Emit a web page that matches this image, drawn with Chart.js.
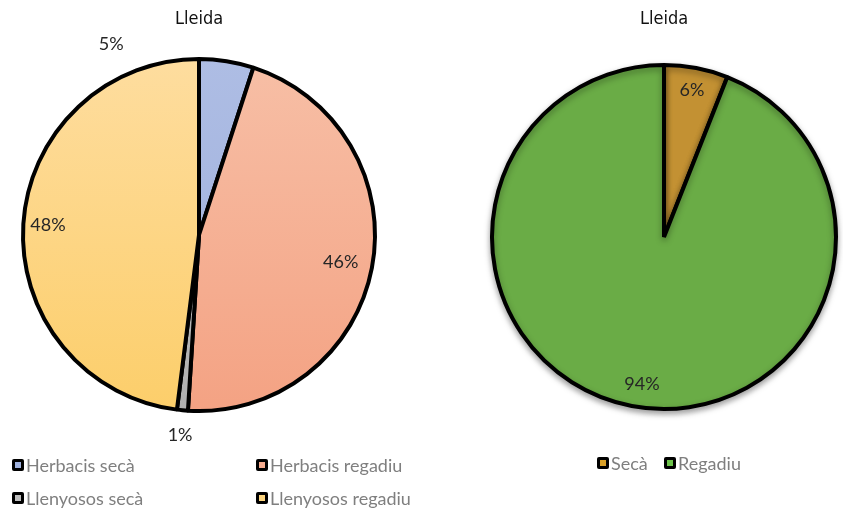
<!DOCTYPE html>
<html>
<head>
<meta charset="utf-8">
<script src="https://cdn.jsdelivr.net/npm/chart.js@4.4.1/dist/chart.umd.min.js"></script>
<style>
html,body{margin:0;padding:0;background:#fff;}
#wrap{position:relative;width:843px;height:513px;overflow:hidden;}
.c{position:absolute;top:0;}
</style>
</head>
<body>
<div id="wrap">
  <div class="c" style="left:0;width:430px;height:513px;"><canvas id="left"></canvas></div>
  <div class="c" style="left:430px;width:413px;height:513px;"><canvas id="right"></canvas></div>
</div>
<script>
// ---- data ----
const leftTitle = "Lleida";
const leftLabels = ["Herbacis secà", "Herbacis regadiu", "Llenyosos secà", "Llenyosos regadiu"];
const leftValues = [5, 46, 1, 48];
const rightTitle = "Lleida";
const rightLabels = ["Secà", "Regadiu"];
const rightValues = [6, 94];

// ---- styles ----
const leftColorsTop = ["#aebde4", "#f7bfa6", "#c8c8c8", "#fedd9f"];
const leftColorsBot = ["#9dafdc", "#f4a283", "#b0b0b0", "#fcce6a"];
const leftLegendColors = ["#9fb1de", "#f5ab8e", "#bfbfbf", "#fdd57f"];
const rightColors = ["#c39133", "#6aac46"];
const FONT = "Lato, 'Open Sans', sans-serif";

function gradFill(tops, bots) {
  return (ctx) => {
    const chart = ctx.chart;
    const a = chart.chartArea;
    if (!a) return tops[ctx.dataIndex];
    const g = chart.ctx.createLinearGradient(0, a.top, 0, a.bottom);
    g.addColorStop(0, tops[ctx.dataIndex]);
    g.addColorStop(1, bots[ctx.dataIndex]);
    return g;
  };
}

const decorPlugin = {
  id: 'decor',
  afterDraw(chart, args, opts) {
    const ctx = chart.ctx;
    const meta = chart.getDatasetMeta(0);
    const first = meta.data[0];
    const cx = first.x, cy = first.y, r = first.outerRadius;
    ctx.save();
    // title
    ctx.fillStyle = "#111111";
    ctx.textAlign = "center";
    ctx.textBaseline = "middle";
    ctx.font = "500 18px 'DejaVu Sans Condensed', sans-serif";
    ctx.fillText(opts.title, cx, 19);
    // value labels
    ctx.font = "18px " + FONT;
    ctx.fillStyle = "#262626";
    const vals = chart.data.datasets[0].data;
    const total = vals.reduce((s, v) => s + v, 0);
    meta.data.forEach((arc, i) => {
      const mid = (arc.startAngle + arc.endAngle) / 2;
      const f = opts.labelRadius[i];
      let x = cx + Math.cos(mid) * r * f;
      let y = cy + Math.sin(mid) * r * f;
      const off = opts.labelShift[i];
      if (off) { x += off[0]; y += off[1]; }
      ctx.fillText(Math.round(vals[i] / total * 100) + "%", x, y);
    });
    // legend
    ctx.font = "18px " + FONT;
    ctx.textAlign = "left";
    chart.data.labels.forEach((lab, i) => {
      const p = opts.legendPos[i];
      ctx.fillStyle = "#000";
      ctx.beginPath();
      ctx.roundRect(p[0], p[1] - 6, 12, 12, 2);
      ctx.fill();
      ctx.fillStyle = opts.legendColors[i];
      ctx.fillRect(p[0] + 3, p[1] - 3, 6, 6);
      ctx.fillStyle = "#7f7f7f";
      ctx.fillText(lab, p[0] + 14, p[1] + 1);
    });
    ctx.restore();
  }
};

const shadowPlugin = {
  id: 'shadow',
  beforeDatasetsDraw(chart, args, opts) {
    if (!opts.on) return;
    chart.ctx.save();
    chart.ctx.shadowColor = "rgba(0,0,0,0.35)";
    chart.ctx.shadowBlur = 6;
    chart.ctx.shadowOffsetY = 3;
  },
  afterDatasetsDraw(chart, args, opts) {
    if (!opts.on) return;
    chart.ctx.restore();
  }
};

new Chart(document.getElementById('left'), {
  type: 'pie',
  data: {
    labels: leftLabels,
    datasets: [{
      data: leftValues,
      backgroundColor: gradFill(leftColorsTop, leftColorsBot),
      borderColor: "#000",
      borderWidth: 4,
      radius: 176
    }]
  },
  options: {
    responsive: true,
    maintainAspectRatio: false,
    animation: false,
    layout: { padding: { left: 21, right: 53, top: 57, bottom: 100 } },
    plugins: {
      legend: { display: false },
      tooltip: { enabled: false },
      shadow: { on: false },
      decor: {
        title: leftTitle,
        labelRadius: [1.1, 0.82, 1.14, 0.86],
        labelShift: [[-118, 0], null, null, null],
        legendPos: [[12, 465], [256, 465], [12, 498], [256, 498]],
        legendColors: leftLegendColors
      }
    }
  },
  plugins: [shadowPlugin, decorPlugin]
});

new Chart(document.getElementById('right'), {
  type: 'pie',
  data: {
    labels: rightLabels,
    datasets: [{
      data: rightValues,
      backgroundColor: rightColors,
      borderColor: "#000",
      borderWidth: 4,
      radius: 172
    }]
  },
  options: {
    responsive: true,
    maintainAspectRatio: false,
    animation: false,
    layout: { padding: { left: 58, right: 3, top: 61, bottom: 100 } },
    plugins: {
      legend: { display: false },
      tooltip: { enabled: false },
      shadow: { on: true },
      decor: {
        title: rightTitle,
        labelRadius: [0.87, 0.87],
        labelShift: [null, [6, 0]],
        legendPos: [[167, 463], [234, 463]],
        legendColors: ["#d9a028", "#6cc24a"]
      }
    }
  },
  plugins: [shadowPlugin, decorPlugin]
});
</script>
</body>
</html>
